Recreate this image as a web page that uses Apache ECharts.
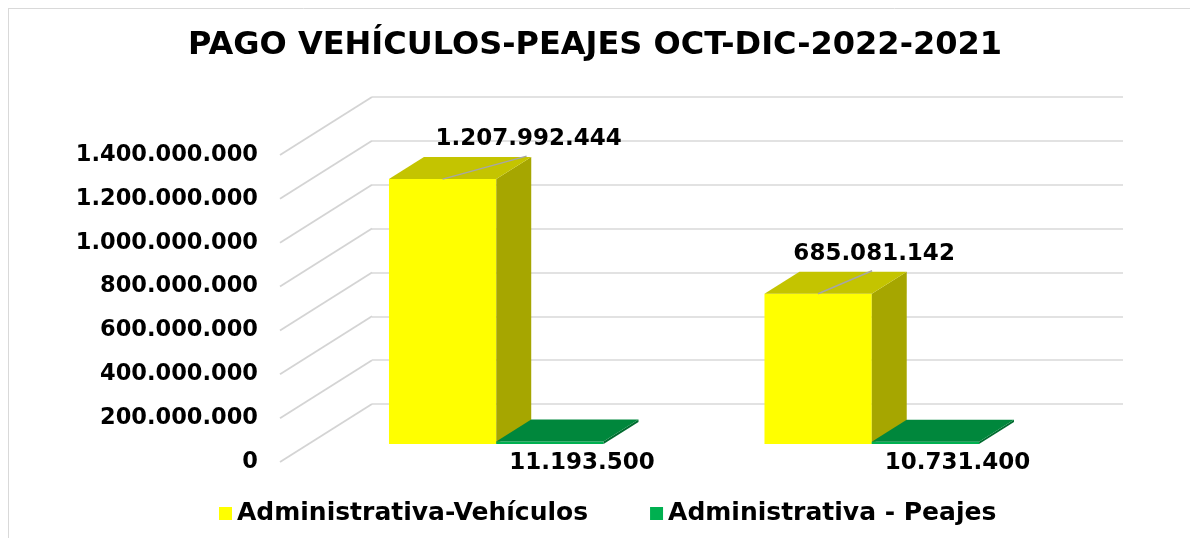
<!DOCTYPE html>
<html>
<head>
<meta charset="utf-8">
<title>Pago vehículos-peajes</title>
<script src="https://cdn.jsdelivr.net/npm/echarts@6/dist/echarts.min.js"></script>
<style>
html, body { margin: 0; padding: 0; background: #fff; }
#charts { width: 1190px; height: 538px; }
</style>
</head>
<body>
<div id="charts"></div>
<script>
// datos
var categorias = ['OCT-DIC 2022', 'OCT-DIC 2021'];
var vehiculos = [1207992444, 685081142];
var peajes = [11193500, 10731400];
var ticksY = [0, 200000000, 400000000, 600000000, 800000000, 1000000000, 1200000000, 1400000000];
var nombres = ['Administrativa-Vehículos', 'Administrativa - Peajes'];

// geometria de la "caja" 3d (plano frontal, fondo y plano de las barras)
var FRONT_X = 280, FRONT_Y = 155, PLANE_W = 751, PLANE_H = 307;
var WALL_DX = 92, WALL_DY = -58;
var BAR_F = 0.31, BAR_DEPTH = 0.38;
var BDX = WALL_DX * BAR_DEPTH, BDY = WALL_DY * BAR_DEPTH;
var LABEL_SHIFT = [86, 56];
var FONT = 'DejaVu Sans';

function fmt(v) {
	return String(v).replace(/\B(?=(\d{3})+(?!\d))/g, '.');
}

function pares(arr) {
	return arr.map(function (v, i) { return [i, v]; });
}

function bar3d(lado, col, etiqueta) {
	return function (params, api) {
		var i = api.value(0), v = api.value(1);
		var w = api.size([1, 0])[0] / 3.5;
		var c = api.coord([i, 0]);
		var t = api.coord([i, v]);
		var x0 = lado < 0 ? c[0] - w : c[0];
		var x1 = x0 + w;
		var yb = c[1], yt = t[1];
		var mid = (x0 + x1) / 2;
		var kids = [
			{ type: 'rect', shape: { x: x0, y: yt, width: w, height: yb - yt }, style: { fill: col[0] } },
			{ type: 'polygon', shape: { points: [[x1, yt], [x1, yb], [x1 + BDX, yb + BDY], [x1 + BDX, yt + BDY]] }, style: { fill: col[2] } },
			{ type: 'polygon', shape: { points: [[x0, yt], [x1, yt], [x1 + BDX, yt + BDY], [x0 + BDX, yt + BDY]] }, style: { fill: col[1] } }
		];
		if (etiqueta == 'arriba') {
			var lx = mid + LABEL_SHIFT[i];
			kids.push({ type: 'line', shape: { x1: mid, y1: yt, x2: lx - 2, y2: yt - 23 }, style: { stroke: '#A6A6A6', lineWidth: 1.5 } });
			kids.push({ type: 'text', style: { x: lx, y: yt - 40, text: fmt(v), align: 'center', verticalAlign: 'middle',
				font: 'bold 23px "' + FONT + '"', fill: '#000' } });
		} else {
			kids.push({ type: 'text', style: { x: mid + 32, y: yb + 19, text: fmt(v), align: 'center', verticalAlign: 'middle',
				font: 'bold 23px "' + FONT + '"', fill: '#000' } });
		}
		return { type: 'group', children: kids };
	};
}

function ejeX(g) {
	return { type: 'category', gridIndex: g, data: categorias, show: false };
}
function ejeY(g, extra) {
	var o = { type: 'value', gridIndex: g, min: 0, max: 1400000000, interval: 200000000,
		axisLine: { show: false }, axisTick: { show: false }, axisLabel: { show: false }, splitLine: { show: false } };
	for (var k in extra) o[k] = extra[k];
	return o;
}

var myChart = echarts.init(document.getElementById('charts'));
var option = {
	animation: false,
	backgroundColor: '#fff',
	title: {
		text: 'PAGO VEHÍCULOS-PEAJES OCT-DIC-2022-2021',
		left: 'center',
		top: 25,
		textStyle: { fontFamily: FONT, fontWeight: 'bold', fontSize: 32, color: '#000' }
	},
	legend: {
		data: nombres,
		left: 214,
		top: 496,
		icon: 'rect',
		itemWidth: 13,
		itemHeight: 13,
		itemGap: 62,
		textStyle: { fontFamily: FONT, fontWeight: 'bold', fontSize: 25, color: '#000' }
	},
	graphic: [
		{ type: 'line', shape: { x1: 8.5, y1: 8, x2: 8.5, y2: 538 }, style: { stroke: '#D9D9D9', lineWidth: 1 } },
		{ type: 'line', shape: { x1: 8, y1: 8.5, x2: 1190, y2: 8.5 }, style: { stroke: '#D9D9D9', lineWidth: 1 } }
	],
	grid: [
		{ left: FRONT_X, top: FRONT_Y, width: PLANE_W, height: PLANE_H },
		{ left: FRONT_X + WALL_DX * BAR_F, top: FRONT_Y + WALL_DY * BAR_F, width: PLANE_W, height: PLANE_H },
		{ left: FRONT_X + WALL_DX, top: FRONT_Y + WALL_DY, width: PLANE_W, height: PLANE_H }
	],
	xAxis: [ejeX(0), ejeX(1), ejeX(2)],
	yAxis: [
		ejeY(0, { axisLabel: { show: true, margin: 22, formatter: fmt, color: '#000',
			fontFamily: FONT, fontWeight: 'bold', fontSize: 22.5 } }),
		ejeY(1, {}),
		ejeY(2, { splitLine: { show: true, lineStyle: { color: '#D9D9D9', width: 1.5 } } })
	],
	series: [
		{
			// lineas diagonales de la pared lateral
			type: 'custom',
			xAxisIndex: 0, yAxisIndex: 0,
			silent: true,
			data: ticksY.map(function (v) { return [0, v]; }),
			renderItem: function (params, api) {
				var y = api.coord([0, api.value(1)])[1];
				var x = params.coordSys.x;
				return { type: 'line', shape: { x1: x, y1: y, x2: x + WALL_DX, y2: y + WALL_DY },
					style: { stroke: '#D4D4D4', lineWidth: 1.8 } };
			}
		},
		{
			name: nombres[0],
			type: 'custom',
			xAxisIndex: 1, yAxisIndex: 1,
			itemStyle: { color: '#FFFF00' },
			data: pares(vehiculos),
			renderItem: bar3d(-1, ['#FFFF00', '#C4C400', '#A6A600'], 'arriba')
		},
		{
			name: nombres[1],
			type: 'custom',
			xAxisIndex: 1, yAxisIndex: 1,
			itemStyle: { color: '#00B050' },
			data: pares(peajes),
			renderItem: bar3d(1, ['#00B050', '#00873C', '#006B2F'], 'abajo')
		}
	]
};
myChart.setOption(option);
</script>
</body>
</html>
